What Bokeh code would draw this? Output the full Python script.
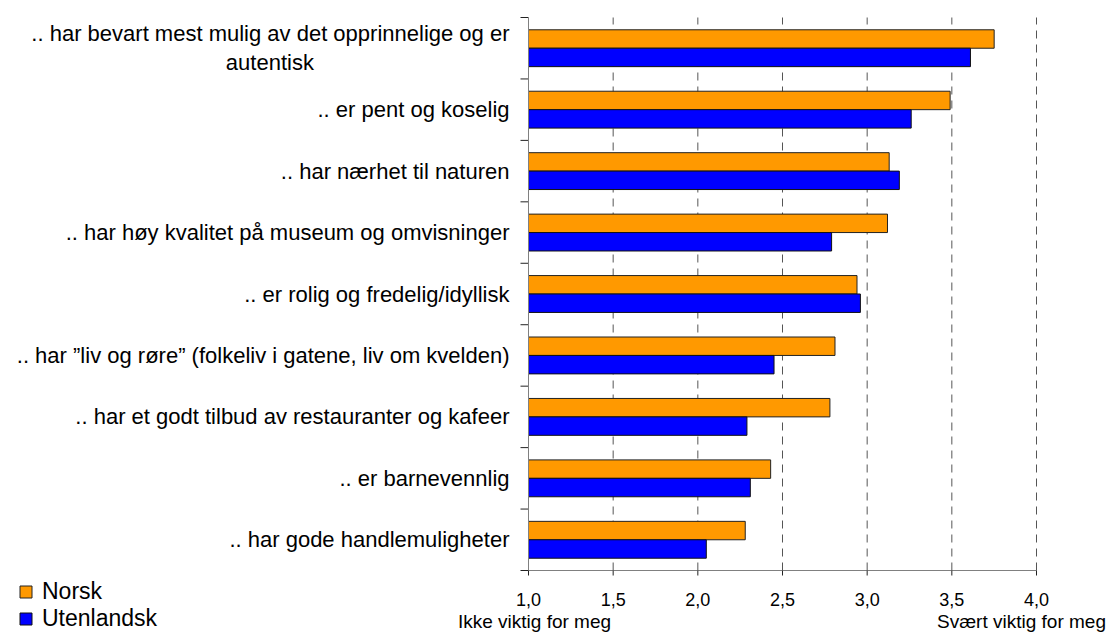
from bokeh.plotting import figure
from bokeh.models import ColumnDataSource, Range1d, Legend, LegendItem
from bokeh.core.properties import value
from bokeh.transform import dodge
from bokeh.embed import file_html
from bokeh.resources import INLINE

categories = [
    ".. har bevart mest mulig av det opprinnelige og er autentisk",
    ".. er pent og koselig",
    ".. har nærhet til naturen",
    ".. har høy kvalitet på museum og omvisninger",
    ".. er rolig og fredelig/idyllisk",
    ".. har ”liv og røre” (folkeliv i gatene, liv om kvelden)",
    ".. har et godt tilbud av restauranter og kafeer",
    ".. er barnevennlig",
    ".. har gode handlemuligheter",
]
norsk = [3.75, 3.49, 3.13, 3.12, 2.94, 2.81, 2.78, 2.43, 2.28]
utenlandsk = [3.61, 3.26, 3.19, 2.79, 2.96, 2.45, 2.29, 2.31, 2.05]
series_names = ["Norsk", "Utenlandsk"]
series_colors = ["#FF9900", "#0000FF"]
x_ticks = [1.0, 1.5, 2.0, 2.5, 3.0, 3.5, 4.0]
x_tick_labels = [f"{t:.1f}".replace(".", ",") for t in x_ticks]
scale_labels = ["Ikke viktig for meg", "Svært viktig for meg"]

NBSP = "\u00a0"
# first label wraps onto two lines, second line centred under the first
display_labels = [".. har bevart mest mulig av det opprinnelige og er\nautentisk" + NBSP * 32] + categories[1:]

FONT = "Liberation Sans"
n = len(categories)
slot = [n - i - 0.5 for i in range(n)]          # first category at the top

# ---- layout (pixels on the canvas) ----
W, H = 1107, 632
FRAME_L, FRAME_R, FRAME_T, FRAME_B = 528, 1036, 17, 570
ppx = (FRAME_R - FRAME_L) / (x_ticks[-1] - x_ticks[0])
ppy = (FRAME_B - FRAME_T) / n


def xd(px):
    return x_ticks[0] + (px - FRAME_L) / ppx


def yd(py):
    return (FRAME_B - py) / ppy


src = ColumnDataSource(dict(cat=categories, slot=slot, label=display_labels,
                            norsk=norsk, utenlandsk=utenlandsk))

p = figure(width=W, height=H, title=None,
           x_range=Range1d(xd(0), xd(W)), y_range=Range1d(yd(H), yd(0)),
           output_backend="svg", toolbar_location=None,
           x_axis_location=None, y_axis_location=None,
           min_border=0, min_border_left=0, min_border_right=0,
           min_border_top=0, min_border_bottom=0)
p.outline_line_color = None
p.xgrid.visible = False
p.ygrid.visible = False
p.background_fill_color = "white"
p.border_fill_color = "white"

x0 = x_ticks[0]
x1 = x_ticks[-1]

# dashed grid lines
grid_x = x_ticks[1:]
p.segment(x0=grid_x, x1=grid_x, y0=[0] * len(grid_x), y1=[n] * len(grid_x),
          line_color="#555555", line_dash="8 6", line_width=1)

# bars
r1 = p.hbar(y=dodge("slot", 0.15), left=x0, right="norsk", height=0.3,
            source=src, fill_color=series_colors[0], line_color="#222222", line_width=1)
r2 = p.hbar(y=dodge("slot", -0.15), left=x0, right="utenlandsk", height=0.3,
            source=src, fill_color=series_colors[1], line_color="#111111", line_width=1)

# y axis: line and ticks at category boundaries
bounds = list(range(n + 1))
p.segment(x0=[xd(FRAME_L - 8)] * len(bounds), x1=[x0] * len(bounds), y0=bounds, y1=bounds,
          line_color="#222222", line_width=1)
p.segment(x0=[x0], x1=[x0], y0=[0], y1=[n], line_color="#808080", line_width=1)

# x axis: line, ticks, labels
p.segment(x0=[x0], x1=[x1], y0=[0], y1=[0], line_color="#808080", line_width=1)
p.segment(x0=x_ticks, x1=x_ticks, y0=[0] * len(x_ticks), y1=[yd(FRAME_B + 5)] * len(x_ticks),
          line_color="#222222", line_width=1)
p.text(x=x_ticks, y=[yd(599)] * len(x_ticks), text=x_tick_labels,
       text_align="center", text_baseline="middle",
       text_font=value(FONT), text_font_size=value("18px"), text_color="#000000")

# category labels
p.text(x=xd(FRAME_L - 19), y="slot", text="label", source=src,
       text_align="right", text_baseline="middle", text_line_height=1.15,
       text_font=value(FONT), text_font_size=value("22px"), text_color="#000000")

# scale captions under the axis
p.text(x=[xd(534), xd(1021)], y=[yd(621)] * 2, text=scale_labels,
       text_align="center", text_baseline="middle",
       text_font=value(FONT), text_font_size=value("19px"), text_color="#000000")

legend = Legend(items=[LegendItem(label=series_names[0], renderers=[r1]),
                       LegendItem(label=series_names[1], renderers=[r2])],
                location=(18, 0), orientation="vertical",
                glyph_width=15, glyph_height=15, label_standoff=9,
                label_text_font_size="23px", label_text_font=FONT, label_height=24,
                label_text_color="#000000",
                spacing=0, padding=0, margin=0,
                border_line_color=None, background_fill_alpha=0)
p.add_layout(legend, "center")

open("out.html", "w").write(file_html(p, INLINE))
